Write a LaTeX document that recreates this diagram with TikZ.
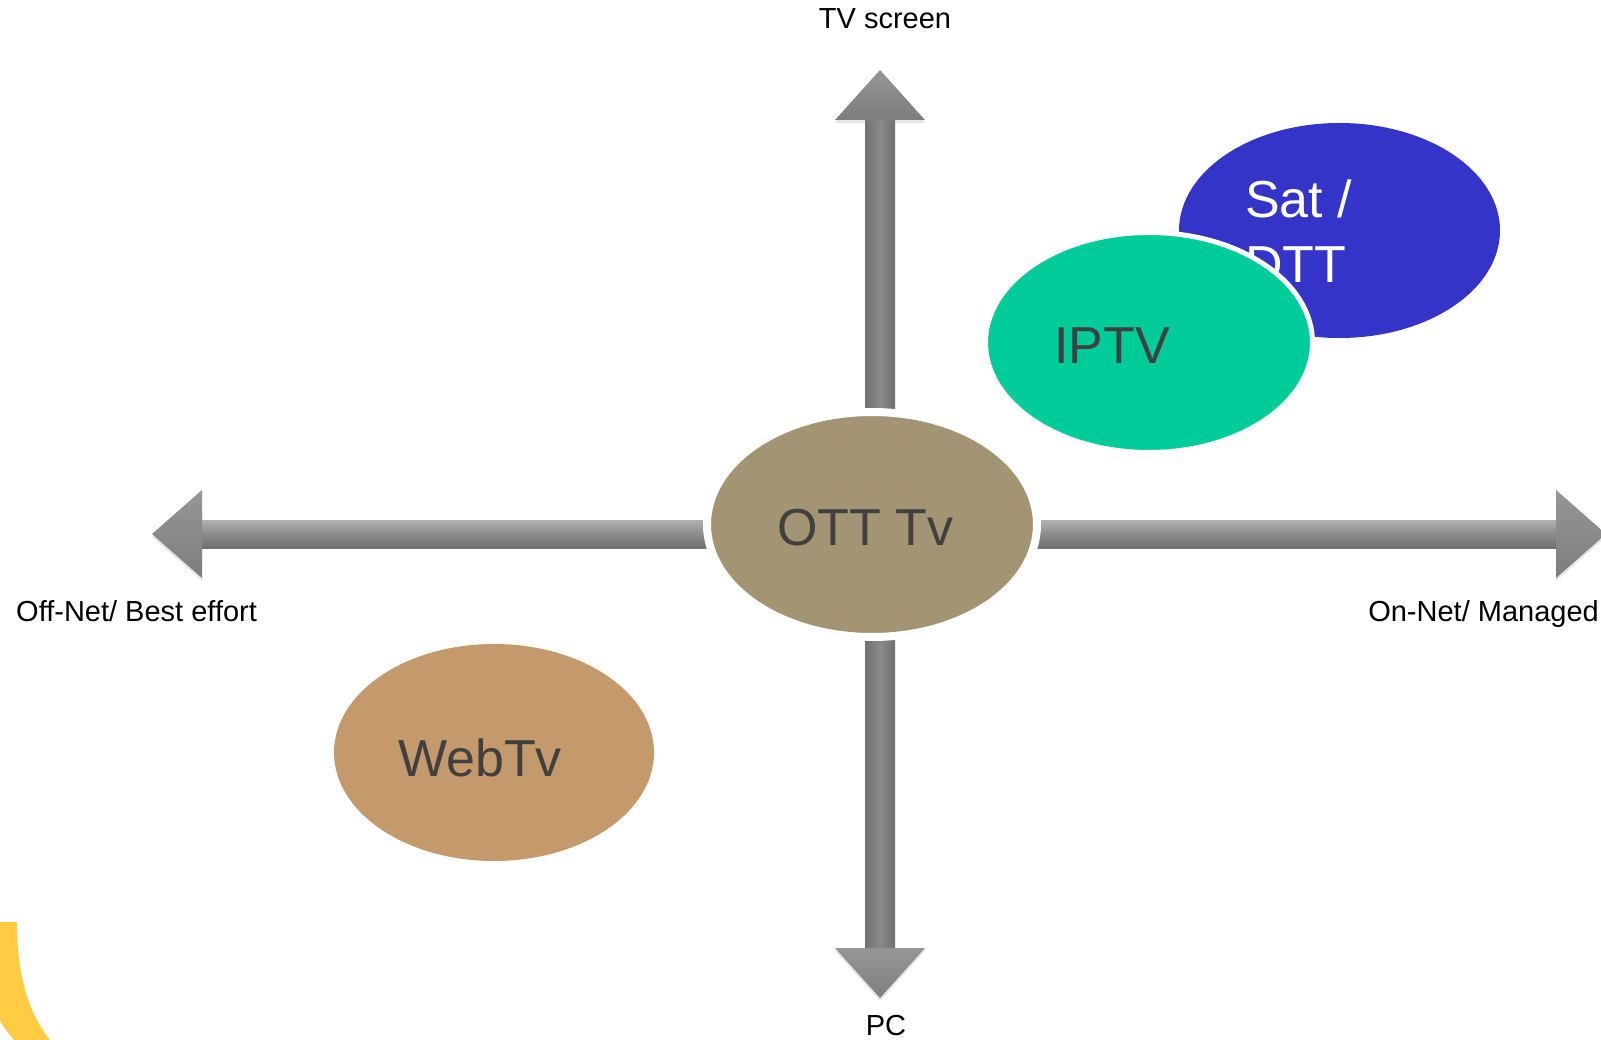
\documentclass[tikz,border=0pt]{standalone}
\usepackage{fontspec}
\setmainfont{Liberation Sans}
\usetikzlibrary{shapes.geometric,shadows}
\definecolor{satblue}{RGB}{52,52,200}
\definecolor{iptvgreen}{RGB}{0,204,153}
\definecolor{ottcol}{RGB}{163,149,115}
\definecolor{webcol}{RGB}{196,153,108}
\definecolor{yelcol}{RGB}{255,204,68}
\definecolor{textgray}{RGB}{64,64,64}
\definecolor{shaftdark}{RGB}{112,112,112}
\definecolor{shaftmid}{RGB}{138,138,138}
\definecolor{shaftlight}{RGB}{178,178,178}
\definecolor{headgray}{RGB}{125,125,125}
\definecolor{headlight}{RGB}{150,150,150}
\begin{document}
\begin{tikzpicture}[x=1pt,y=-1pt,
  blob/.style={ellipse, inner sep=0pt, outer sep=0pt},
  bigtext/.style={font=\fontsize{52}{64}\selectfont, text=textgray, inner sep=0pt, anchor=base west},
  axislabel/.style={font=\fontsize{29}{34}\selectfont, inner sep=0pt, text=black},
  vshaft/.style={left color=shaftdark, right color=shaftdark, middle color=shaftmid},
  hshaft/.style={top color=shaftlight, bottom color=shaftdark, middle color=shaftmid},
  arrowhead/.style={top color=headlight, bottom color=headgray, drop shadow={opacity=0.2, shadow xshift=0pt, shadow yshift=-3pt}}
]
\useasboundingbox (0,0) rectangle (1601,1040);

% axes (block arrows)
\coordinate (top) at (880,70);
\coordinate (bottom) at (880,998);
\coordinate (left) at (152,534);
\coordinate (right) at (1606,534);

\shade[vshaft] (865,118) rectangle (895,950);
\shade[hshaft] (200,520) rectangle (1558,548);
\shade[arrowhead] (835,120) -- (top) -- (925,120) -- cycle;
\shade[arrowhead] (835,948) -- (bottom) -- (925,948) -- cycle;
\shade[arrowhead] (202,490) -- (left) -- (202,578) -- cycle;
\shade[arrowhead] (1556,490) -- (right) -- (1556,578) -- cycle;

% yellow decoration bottom-left
\fill[yelcol] (0,922) -- (17,922) .. controls (17,975) and (28,1012) .. (50,1040)
  -- (14,1040) .. controls (6,1030) and (2,1025) .. (0,1020) -- cycle;

% ellipses
\node[blob, fill=webcol, minimum width=320pt, minimum height=217pt] (web) at (494,752.5) {};
\node[blob, fill=ottcol, draw=white, line width=8pt, minimum width=330pt, minimum height=225pt] (ott) at (872,524.5) {};
\node[blob, fill=satblue, minimum width=321pt, minimum height=215pt] (sat) at (1339.5,230.5) {};
\node[bigtext, text=white] (sat1) at (1245,218) {Sat /};
\node[bigtext, text=white] (sat2) at (1245,283) {DTT};
\node[blob, fill=iptvgreen, draw=white, line width=5pt, minimum width=327pt, minimum height=220pt] (iptv) at (1149,342.5) {};

% big texts
\node[bigtext] (webt) at (398,776) {WebTv};
\node[bigtext] (ottt) at (777,545) {OTT Tv};
\node[bigtext] (iptvt) at (1054,364) {IPTV};

% axis labels
\node[axislabel, anchor=base] (tvs) at (885,29) {TV screen};
\node[axislabel, anchor=base] (pc) at (886,1035) {PC};
\node[axislabel, anchor=base west] (off) at (16,621) {Off-Net/ Best effort};
\node[axislabel, anchor=base east] (on) at (1599,621) {On-Net/ Managed};
\end{tikzpicture}
\end{document}
